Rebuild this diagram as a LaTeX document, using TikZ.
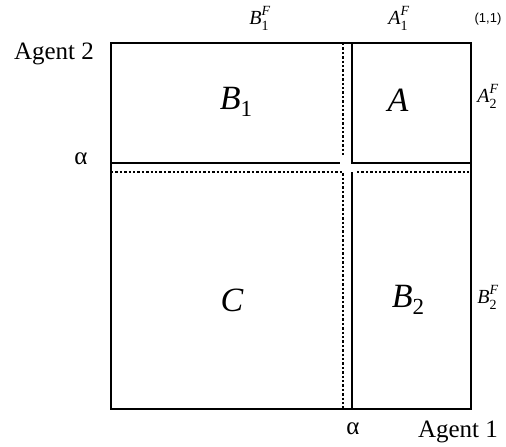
\documentclass[tikz,border=0pt]{standalone}
\usepackage{fontspec}
\setmainfont{Liberation Serif}
\setsansfont{Liberation Sans}
\newcommand{\bigsub}[2]{\textit{#1}\raisebox{-7pt}{\fontsize{23}{23}\selectfont #2}}
\newcommand{\smlsupsub}[2]{\textit{#1}\rlap{\raisebox{9pt}{\fontsize{14}{14}\selectfont\textit{F}}}\raisebox{-6pt}{\fontsize{14}{14}\selectfont #2}}
\begin{document}
\begin{tikzpicture}[x=1pt,y=-1pt,
  solidln/.style={line width=2.6pt},
  dotln/.style={line width=2.4pt,dash pattern=on 2.4pt off 2pt},
  lbl/.style={inner sep=0pt,font=\fontsize{25}{28}\selectfont},
  big/.style={inner sep=0pt,font=\fontsize{34}{38}\selectfont},
  sml/.style={inner sep=0pt,font=\fontsize{20}{22}\selectfont}]
\useasboundingbox (0,0) rectangle (506,447);
% corners
\coordinate (tl) at (111,43);
\coordinate (br) at (471,409);
\coordinate (hl) at (111,163);
\coordinate (hm) at (340,163);
\coordinate (vt) at (352,43);
\coordinate (vc) at (352,163);
\coordinate (hr) at (471,163);
\coordinate (vl) at (352,172);
\coordinate (vb) at (352,409);
\coordinate (dt) at (343,43);
\coordinate (dm) at (343,157);
\coordinate (dl) at (111,172);
\coordinate (dc) at (343,172);
\coordinate (db) at (343,409);
\coordinate (dr1) at (357,172);
\coordinate (dr2) at (471,172);
% dotted lines
\draw[dotln] (dt) -- (dm);
\draw[dotln] (dl) -- (dc) -- (db);
\draw[dotln] (dr1) -- (dr2);
% solid lines
\draw[solidln] (tl) rectangle (br);
\draw[solidln] (hl) -- (hm);
\draw[solidln] (vt) -- (vc) -- (hr);
\draw[solidln] (vl) -- (vb);
% region labels
\node[big] (B1) at (236,102) {\bigsub{B}{1}};
\node[big] (A) at (398,100) {\textit{A}};
\node[big] (C) at (232,300) {\textit{C}};
\node[big] (B2) at (408,300) {\bigsub{B}{2}};
% axis labels
\node[lbl] (ag2) at (54,54) {Agent 2};
\node[lbl] (al2) at (81,159) {α};
\node[lbl] (al1) at (353,429) {α};
\node[lbl] (ag1) at (458,432) {Agent 1};
\node[sml] (b1f) at (259,18) {\smlsupsub{B}{1}};
\node[sml] (a1f) at (398,18) {\smlsupsub{A}{1}};
\node[inner sep=0pt,font=\sffamily\fontsize{13}{15}\selectfont] (one) at (488,19) {(1,1)};
\node[sml] (a2f) at (487,96) {\smlsupsub{A}{2}};
\node[sml] (b2f) at (487,297) {\smlsupsub{B}{2}};
\end{tikzpicture}
\end{document}
